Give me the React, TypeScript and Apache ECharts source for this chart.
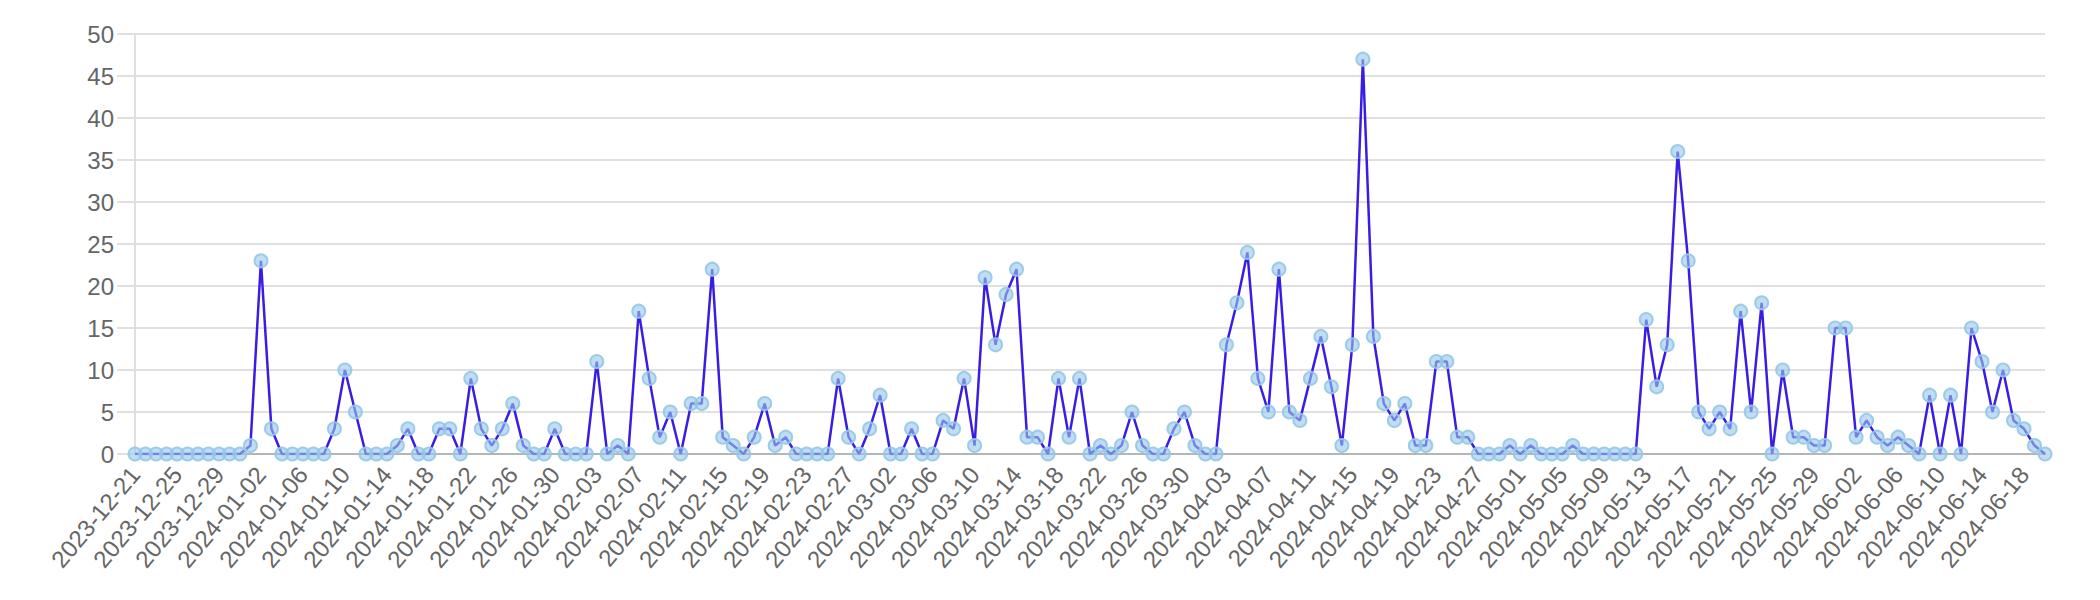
import React, { useEffect, useRef } from "react";
import * as echarts from "echarts";

const startDate = "2023-12-21";
const dec = [0, 0, 0, 0, 0, 0, 0, 0, 0, 0, 0];
const jan = [1, 23, 3, 0, 0, 0, 0, 0, 3, 10, 5, 0, 0, 0, 1, 3, 0, 0, 3, 3, 0, 9, 3, 1, 3, 6, 1, 0, 0, 3, 0];
const feb = [0, 0, 11, 0, 1, 0, 17, 9, 2, 5, 0, 6, 6, 22, 2, 1, 0, 2, 6, 1, 2, 0, 0, 0, 0, 9, 2, 0, 3];
const mar = [7, 0, 0, 3, 0, 0, 4, 3, 9, 1, 21, 13, 19, 22, 2, 2, 0, 9, 2, 9, 0, 1, 0, 1, 5, 1, 0, 0, 3, 5, 1];
const apr = [0, 0, 13, 18, 24, 9, 5, 22, 5, 4, 9, 14, 8, 1, 13, 47, 14, 6, 4, 6, 1, 1, 11, 11, 2, 2, 0, 0, 0, 1];
const may = [0, 1, 0, 0, 0, 1, 0, 0, 0, 0, 0, 0, 16, 8, 13, 36, 23, 5, 3, 5, 3, 17, 5, 18, 0, 10, 2, 2, 1, 1, 15];
const jun = [15, 2, 4, 2, 1, 2, 1, 0, 7, 0, 7, 0, 15, 11, 5, 10, 4, 3, 1, 0];

const values = [...dec, ...jan, ...feb, ...mar, ...apr, ...may, ...jun];

function buildDates(start: string, count: number): string[] {
  const out: string[] = [];
  const d = new Date(start + "T00:00:00Z");
  for (let i = 0; i < count; i++) {
    const y = d.getUTCFullYear();
    const m = String(d.getUTCMonth() + 1).padStart(2, "0");
    const day = String(d.getUTCDate()).padStart(2, "0");
    out.push(`${y}-${m}-${day}`);
    d.setUTCDate(d.getUTCDate() + 1);
  }
  return out;
}

const categories = buildDates(startDate, values.length);
const yTicks = { min: 0, max: 50, interval: 5 };

export default function App() {
  const ref = useRef<HTMLDivElement>(null);
  useEffect(() => {
    if (!ref.current) return;
    const chart = echarts.init(ref.current, undefined, { renderer: "svg" });
    const font = "'Liberation Sans', Arial, Helvetica, sans-serif";
    chart.setOption({
      animation: false,
      grid: { left: 135, right: 55, top: 34, bottom: 146, containLabel: false },
      xAxis: {
        type: "category",
        data: categories,
        boundaryGap: false,
        axisLine: { show: true, lineStyle: { color: "#b5b5b5", width: 2 } },
        axisTick: { show: false },
        axisLabel: {
          interval: 3,
          rotate: 50,
          fontSize: 24,
          color: "#666",
          fontFamily: font,
          margin: 16,
        },
        splitLine: { show: false },
      },
      yAxis: {
        type: "value",
        min: yTicks.min,
        max: yTicks.max,
        interval: yTicks.interval,
        axisLine: { show: true, lineStyle: { color: "#e0e0e0", width: 2 } },
        axisTick: { show: true, length: 18, lineStyle: { color: "#e0e0e0", width: 2 } },
        axisLabel: { fontSize: 24, color: "#666", fontFamily: font, margin: 21 },
        splitLine: { show: true, lineStyle: { color: "#e0e0e0", width: 2 } },
      },
      series: [
        {
          type: "line",
          data: values,
          symbol: "circle",
          symbolSize: 13,
          showAllSymbol: true,
          lineStyle: { color: "#3a1de3", width: 2.5 },
          itemStyle: {
            color: "rgba(150, 200, 235, 0.6)",
            borderColor: "rgba(150, 200, 230, 0.9)",
            borderWidth: 2,
          },
          z: 2,
        },
      ],
    });
    return () => chart.dispose();
  }, []);
  return (
    <div
      ref={ref}
      style={{ position: "absolute", left: 0, top: 0, width: 2100, height: 600 }}
    />
  );
}
